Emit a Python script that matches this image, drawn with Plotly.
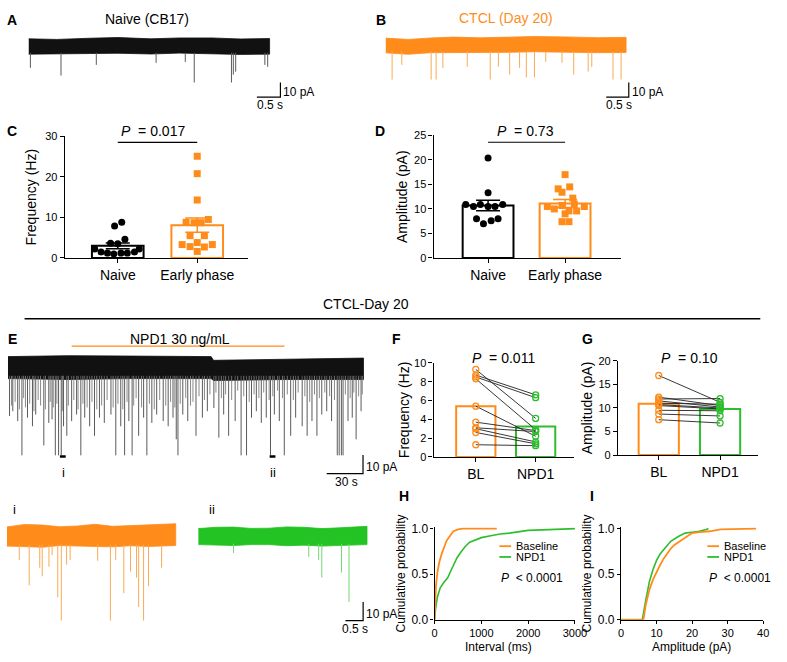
import plotly.graph_objects as go

# ======================= DATA =======================
# A  naive (CB17) sEPSC trace: event times (s) and amplitudes (pA)
a_event_t = [0.04, 0.69, 1.44, 2.71, 3.33, 3.52, 4.31, 4.35, 4.40, 5.02, 5.08]
a_event_amp = [14.7, 20.0, 12.7, 11.3, 10.7, 24.7, 24.7, 19.3, 17.3, 12.7, 14.0]
a_band_t = [0, 0.6, 1.3, 1.9, 2.6, 3.2, 3.9, 4.5, 5.12]
a_band_top = [5.0, 4.6, 5.4, 5.9, 5.0, 5.6, 5.6, 4.9, 5.2]
a_band_bot = [-5.4, -5.0, -5.0, -4.8, -5.3, -4.7, -5.0, -5.6, -5.4]

# B  CTCL (day 20) trace
b_event_t = [0.145, 0.36, 1.01, 1.12, 1.27, 1.81, 2.32, 2.50, 2.75, 2.97, 3.12,
             3.30, 3.55, 3.91, 4.17, 4.49, 4.57, 5.04, 5.22]
b_event_amp = [23.7, 13.7, 23.7, 23.7, 15.7, 15.0, 23.7, 15.0, 20.3, 15.7, 22.3,
               22.3, 11.7, 12.3, 20.3, 18.3, 15.0, 23.7, 23.7]
b_band_t = [0, 0.5, 1.0, 1.5, 2.1, 2.7, 3.3, 4.0, 4.7, 5.33]
b_band_top = [4.5, 3.6, 4.6, 5.2, 4.7, 5.0, 5.6, 5.3, 4.8, 5.0]
b_band_bot = [-5.5, -6.5, -5.4, -5.0, -5.3, -5.2, -4.8, -5.0, -5.4, -5.3]

# C  frequency (Hz)
groups_cd = ["Naive", "Early phase"]
c_naive = [7.9, 8.8, 4.6, 3.6, 3.5, 2.2, 1.5, 1.2, 1.0, 1.2, 1.2, 1.5, 2.2]
c_early = [25.1, 20.8, 14.3, 8.8, 8.7, 8.7, 9.5, 5.5, 5.5, 3.3, 2.8, 3.8, 3.3, 1.6, 2.7]
c_mean = [3.0, 8.1]
c_sem = [0.7, 1.75]
c_p = "0.017"

# D  amplitude (pA)
d_naive = [20.4, 13.3, 10.9, 10.5, 10.9, 10.5, 10.5, 10.9, 8.0, 8.0, 7.0, 7.6]
d_early = [17.0, 14.1, 14.5, 13.4, 12.2, 10.5, 10.0, 10.7, 9.0, 9.6, 10.5, 9.6, 7.4, 7.4, 11.0]
d_mean = [10.7, 11.1]
d_sem = [1.05, 0.8]
d_p = "0.73"

# E  long CTCL-day 20 recording (s, pA)
e_event_t = [1.35, 4.05, 8.1, 11.6, 16.2, 20.3, 23.0, 29.7, 33.8, 36.5, 39.2, 41.9, 44.1,
             46.0, 48.7, 52.7, 56.8, 60.3, 63.5, 67.6, 71.6, 75.7, 79.7, 85.2, 89.2, 93.3,
             96.5, 100.0, 102.7, 108.1, 112.2, 114.9, 119.0, 123.0, 128.4, 132.5, 136.5,
             139.2, 140.6, 144.6, 148.7, 155.5, 160.8, 164.9, 170.3, 174.4, 178.4, 182.5,
             187.9, 192.8, 197.3, 201.4, 205.4, 209.5, 213.6, 217.1, 220.3, 224.4, 228.5,
             233.8, 237.9, 243.3, 247.4, 251.4, 255.5, 259.5, 263.6, 267.6, 272.3, 273.9,
             275.7, 277.1, 281.2, 284.7, 287.9, 292.0]
e_event_amp = [29.6, 27.0, 32.3, 50.7, 30.5, 35.1, 28.8, 45.4, 33.3, 31.4, 50.7, 50.7, 50.7,
               35.1, 40.2, 32.3, 28.8, 50.7, 30.5, 35.1, 40.2, 30.5, 33.3, 28.8, 50.7, 35.1,
               50.7, 32.3, 50.7, 40.2, 30.5, 50.7, 33.3, 28.8, 32.3, 35.1, 30.5, 42.1, 50.7,
               28.8, 32.3, 40.2, 30.5, 27.0, 25.3, 41.2, 28.8, 40.2, 32.3, 50.7, 50.7, 30.5,
               27.0, 33.3, 30.5, 50.7, 28.8, 32.3, 50.7, 40.2, 30.5, 35.1, 40.2, 32.3, 40.2,
               28.8, 27.0, 32.3, 50.7, 50.7, 50.7, 50.7, 32.3, 30.5, 42.1, 27.0]
e_small_t = [3, 6, 9.5, 13, 14.5, 18, 21.5, 25, 27, 31, 35, 37.5, 40.5, 45, 50, 54.5, 58, 62,
             65.5, 69.5, 73.5, 77.5, 82, 87, 91, 95, 98.5, 104, 106, 110.5, 117, 121, 125.5,
             130.5, 134.5, 138, 142.5, 147, 151, 153, 158, 162.5, 167, 172, 176.5, 180, 185,
             190, 195, 199.5, 203.5, 207.5, 211.5, 216, 219, 223, 227, 231, 236, 240, 245.5,
             249.5, 253.5, 257.5, 262, 266, 270, 279, 283, 286, 290, 293]
e_small_amp = [24, 22, 26, 20, 25, 23, 27, 21, 24, 26, 22, 25, 23, 27, 24, 21, 26, 23, 25, 22,
               26, 24, 21, 25, 23, 26, 22, 24, 20, 25, 23, 26, 21, 24, 22, 25, 23, 20, 24, 22,
               19, 21, 18, 17, 20, 18, 21, 16, 19, 22, 18, 20, 17, 21, 19, 16, 20, 18, 21, 17,
               19, 22, 18, 20, 17, 19, 21, 18, 20, 17, 19, 18]
e_band_t = [0, 50, 100, 168, 170, 230, 294]
e_band_top = [2.3, 2.8, 2.6, 2.3, 0.3, 0.8, 1.5]
e_band_bot = [-9.5, -10.0, -9.5, -9.5, -10.5, -10.0, -10.0]
npd1_on, npd1_off = 52.7, 228.7       # drug application (s)
seg_i_start, seg_ii_start = 43.0, 216.4
seg_dur = 4.78

# F  frequency BL vs NPD1 (paired)
pair_groups = ["BL", "NPD1"]
f_bl = [9.3, 8.7, 8.5, 8.3, 5.4, 3.7, 3.1, 3.0, 2.6, 1.3]
f_npd1 = [4.1, 6.6, 6.3, 2.9, 2.2, 2.8, 2.7, 1.6, 1.4, 1.2]
f_mean = [5.4, 3.25]
f_p = "0.011"

# G  amplitude BL vs NPD1 (paired)
g_bl = [16.9, 12.3, 11.9, 11.5, 11.0, 10.7, 10.5, 9.5, 8.7, 7.5]
g_npd1 = [11.2, 10.5, 12.0, 10.2, 10.8, 10.0, 9.8, 9.4, 8.3, 6.8]
g_mean = [10.9, 9.8]
g_p = "0.10"

# H  cumulative inter-event interval (ms)
h_base_ms = [0, 10, 30, 60, 100, 150, 200, 250, 300, 350, 400, 450, 500, 600, 800, 1330]
h_base_p = [0, 0.2, 0.38, 0.52, 0.63, 0.72, 0.8, 0.86, 0.9, 0.94, 0.97, 0.98, 0.99, 1.0, 1.0, 1.0]
h_npd_ms = [0, 20, 60, 120, 200, 280, 350, 420, 480, 560, 650, 750, 850, 1000, 1200, 1400,
            1600, 1800, 2000, 2300, 2600, 3050]
h_npd_p = [0, 0.12, 0.25, 0.35, 0.41, 0.46, 0.54, 0.62, 0.68, 0.74, 0.8, 0.85, 0.87, 0.9,
           0.92, 0.94, 0.95, 0.965, 0.98, 0.985, 0.99, 1.0]

# I  cumulative amplitude (pA)
i_base_pa = [0, 6.3, 7, 8, 9, 10, 11, 12, 13, 14, 15, 17, 19, 20, 22, 25, 28, 38]
i_base_p = [0, 0, 0.17, 0.33, 0.44, 0.53, 0.6, 0.67, 0.73, 0.78, 0.82, 0.87, 0.92, 0.95,
            0.96, 0.97, 0.99, 1.0]
i_npd_pa = [0, 6.0, 7, 8, 9, 10, 11, 12, 13, 14, 16, 18, 20, 22, 24, 24.6]
i_npd_p = [0, 0, 0.22, 0.42, 0.55, 0.65, 0.72, 0.77, 0.82, 0.86, 0.91, 0.95, 0.96, 0.97, 0.99, 1.0]
cum_p = "< 0.0001"

# i / ii expanded segments (s, pA)
ti_event_t = [0.35, 0.63, 0.93, 1.0, 1.19, 1.28, 1.44, 1.54, 1.69, 1.79, 2.57, 2.93, 3.08,
              3.31, 3.5, 3.67, 3.73, 3.87, 4.01, 4.38]
ti_event_amp = [14.2, 27.9, 18.4, 23.0, 17.9, 11.6, 34.2, 46.8, 16.8, 14.2, 14.7, 46.8, 14.2,
                32.1, 20.5, 23.7, 39.5, 46.8, 28.4, 18.4]
ti_band_t = [0, 0.5, 1.0, 1.5, 2.0, 2.5, 3.0, 3.5, 4.0, 4.78]
ti_band_top = [3.5, 4.8, 4.5, 3.6, 4.0, 4.9, 3.8, 4.2, 4.5, 5.2]
ti_band_bot = [-6.8, -7.2, -7.4, -6.5, -6.8, -7.0, -7.2, -6.6, -7.0, -6.5]
tii_event_t = [1.0, 3.13, 3.41, 3.5, 4.06, 4.27]
tii_event_amp = [10.5, 12.6, 14.2, 23.7, 21.0, 36.8]
tii_band_t = [0, 0.5, 1.0, 1.5, 2.0, 2.5, 3.0, 3.5, 4.0, 4.78]
tii_band_top = [2.6, 3.3, 3.4, 2.7, 2.8, 3.5, 3.3, 2.6, 3.0, 3.8]
tii_band_bot = [-6.0, -6.4, -6.5, -6.0, -6.0, -6.6, -6.3, -6.8, -6.6, -6.0]

# ======================= STYLE =======================
W, H = 787, 662
FONT = "Liberation Sans, Arial, sans-serif"
ORANGE = "#FF8C1A"
ORANGE_LT = "#F9AA55"
GREEN = "#2DBE2D"
GREEN_TR = "#22C322"
GREEN_LT = "#70D870"
BLACK = "black"

fig = go.Figure()
layout = dict(width=W, height=H, margin=dict(l=0, r=0, t=0, b=0),
              paper_bgcolor="white", plot_bgcolor="rgba(0,0,0,0)",
              showlegend=False, font=dict(family=FONT, color=BLACK, size=12))
annotations = []
shapes = []
_n = [0]


def px_x(p):
    return p / W


def px_y(p):
    return 1 - p / H


def new_axes(x0, x1, ytop, ybot, xrange, yrange, xopt=None, yopt=None):
    _n[0] += 1
    s = "" if _n[0] == 1 else str(_n[0])
    xa = dict(domain=[px_x(x0), px_x(x1)], range=xrange, anchor="y" + s,
              showgrid=False, zeroline=False, fixedrange=True, visible=False)
    ya = dict(domain=[px_y(ybot), px_y(ytop)], range=yrange, anchor="x" + s,
              showgrid=False, zeroline=False, fixedrange=True, visible=False)
    if xopt:
        xa.update(xopt)
    if yopt:
        ya.update(yopt)
    layout["xaxis" + s] = xa
    layout["yaxis" + s] = ya
    return "x" + s, "y" + s


def text(xp, yp, s, size=14, color=BLACK, xanchor="center", bold=False, **kw):
    if bold:
        s = "<b>" + s + "</b>"
    annotations.append(dict(x=px_x(xp), y=px_y(yp), xref="paper", yref="paper", text=s,
                            showarrow=False, xanchor=xanchor, yanchor="middle",
                            font=dict(size=size, color=color, family=FONT), **kw))


def trace_axes(x0, x1, ytop, ybot, t0_px, base_px, px_per_s, px_per_pa):
    xr = [(x0 - t0_px) / px_per_s, (x1 - t0_px) / px_per_s]
    yr = [-(ybot - base_px) / px_per_pa, (base_px - ytop) / px_per_pa]
    return new_axes(x0, x1, ytop, ybot, xr, yr)


def draw_trace(ax, band_t, band_top, band_bot, ev_t, ev_amp, band_col, spike_col,
               spike_start, width=1.0):
    xa, ya = ax
    fig.add_trace(go.Scatter(x=band_t + band_t[::-1], y=band_top + band_bot[::-1],
                             fill="toself", fillcolor=band_col, mode="lines",
                             line=dict(color=band_col, width=0.8), xaxis=xa, yaxis=ya,
                             hoverinfo="skip"))
    xs, ys = [], []
    for t, a in zip(ev_t, ev_amp):
        xs += [t, t, None]
        ys += [spike_start, -a, None]
    fig.add_trace(go.Scatter(x=xs, y=ys, mode="lines", line=dict(color=spike_col, width=width),
                             xaxis=xa, yaxis=ya, hoverinfo="skip"))


def scalebar(ax, t_end, y_bot, sec, pa, s_label, pa_label, size=12):
    xa, ya = ax
    fig.add_trace(go.Scatter(x=[t_end - sec, t_end, t_end], y=[y_bot, y_bot, y_bot + pa],
                             mode="lines", line=dict(color=BLACK, width=1.2),
                             xaxis=xa, yaxis=ya, hoverinfo="skip"))
    annotations.append(dict(x=t_end, y=y_bot + pa / 2 - pa * 0.15, xref=xa, yref=ya,
                            text=pa_label, showarrow=False, xanchor="left", yanchor="middle",
                            xshift=1, font=dict(size=size, family=FONT)))
    annotations.append(dict(x=t_end - sec / 2 + sec * 0.05, y=y_bot, xref=xa, yref=ya,
                            text=s_label, showarrow=False, xanchor="center", yanchor="top",
                            yshift=1, font=dict(size=size, family=FONT)))


AXLINE = dict(showline=True, linecolor=BLACK, linewidth=1.3, ticks="outside", ticklen=4,
              tickwidth=1.3, tickcolor=BLACK, visible=True, showgrid=False, zeroline=False)


def bar_axes(x0, x1, ytop, ybot, centre_px, unit_px, yr, yticks, ytitle, cats,
             tick_size=11, standoff=4):
    xr = [-(centre_px - x0) / unit_px, (x1 - centre_px) / unit_px]
    xopt = dict(AXLINE, tickvals=[0, 1], ticktext=cats, tickfont=dict(size=14, family=FONT))
    yopt = dict(AXLINE, tickvals=yticks, tickfont=dict(size=tick_size, family=FONT),
                title=dict(text=ytitle, font=dict(size=14, family=FONT), standoff=standoff))
    return new_axes(x0, x1, ytop, ybot, xr, yr, xopt, yopt)


def sig_line(ax, y_line):
    xa, ya = ax
    fig.add_trace(go.Scatter(x=[0, 1], y=[y_line, y_line], mode="lines",
                             line=dict(color=BLACK, width=1.2), xaxis=xa, yaxis=ya,
                             hoverinfo="skip"))


def scatter_bar_panel(ax, mean, sem, g0, g1, dx0, dx1, bw):
    xa, ya = ax
    fig.add_trace(go.Bar(x=[0, 1], y=mean, width=bw, xaxis=xa, yaxis=ya,
                         marker=dict(color="rgba(255,255,255,0)",
                                     line=dict(color=[BLACK, ORANGE], width=2))))
    for i, col in ((0, BLACK), (1, ORANGE)):
        fig.add_trace(go.Scatter(x=[i], y=[mean[i]], mode="markers", marker=dict(opacity=0),
                                 error_y=dict(type="data", array=[sem[i]], color=col,
                                              thickness=1.5, width=12),
                                 xaxis=xa, yaxis=ya, hoverinfo="skip"))
    fig.add_trace(go.Scatter(x=[0 + d for d in dx0], y=g0, mode="markers",
                             marker=dict(symbol="circle", size=7, color=BLACK),
                             xaxis=xa, yaxis=ya, cliponaxis=False))
    fig.add_trace(go.Scatter(x=[1 + d for d in dx1], y=g1, mode="markers",
                             marker=dict(symbol="square", size=7, color=ORANGE),
                             xaxis=xa, yaxis=ya, cliponaxis=False))


def paired_panel(ax, bl, npd, mean, bw):
    xa, ya = ax
    fig.add_trace(go.Bar(x=[0, 1], y=mean, width=bw, xaxis=xa, yaxis=ya,
                         marker=dict(color="rgba(255,255,255,0)",
                                     line=dict(color=[ORANGE, GREEN], width=2))))
    xs, ys = [], []
    for a, b in zip(bl, npd):
        xs += [0, 1, None]
        ys += [a, b, None]
    fig.add_trace(go.Scatter(x=xs, y=ys, mode="lines", line=dict(color="#222", width=0.9),
                             xaxis=xa, yaxis=ya, hoverinfo="skip"))
    fig.add_trace(go.Scatter(x=[0] * len(bl), y=bl, mode="markers", cliponaxis=False,
                             marker=dict(symbol="circle-open", size=6, color=ORANGE,
                                         line=dict(width=1.3)), xaxis=xa, yaxis=ya))
    fig.add_trace(go.Scatter(x=[1] * len(npd), y=npd, mode="markers", cliponaxis=False,
                             marker=dict(symbol="circle-open", size=6, color=GREEN,
                                         line=dict(width=1.3)), xaxis=xa, yaxis=ya))


def p_text(xp, yp, p, size=14):
    text(xp, yp, "<i>P</i>  = " + p, size=size)


# ======================= A =======================
axA = trace_axes(26, 290, 25, 100, 26, 41, 48, 1.5)
draw_trace(axA, a_band_t, a_band_top, a_band_bot, a_event_t, a_event_amp,
           "#111111", "#5a5a5a", -4.5)
scalebar(axA, 5.35, -34.7, 0.5, 10, "0.5 s", "10 pA")
text(9, 14, "A", bold=True)
text(147, 13, "Naive (CB17)")

# ======================= B =======================
axB = trace_axes(390, 660, 25, 100, 390, 39.5, 46, 1.5)
draw_trace(axB, b_band_t, b_band_top, b_band_bot, b_event_t, b_event_amp,
           ORANGE, ORANGE_LT, -4.5)
scalebar(axB, 5.39, -35.7, 0.5, 10, "0.5 s", "10 pA")
text(378, 14, "B", bold=True, xanchor="left")
text(513, 12, "CTCL (Day 20)", color=ORANGE)

# ======================= C =======================
c_dx0 = [-0.04, 0.05, 0.09, -0.09, 0.0, -0.29, -0.21, -0.13, -0.05, 0.04, 0.12, 0.21, 0.27]
c_dx1 = [0, 0, 0, -0.14, -0.04, 0.05, 0.14, -0.09, 0.09, -0.19, -0.09, 0, 0.19, 0, 0.09]
axC = bar_axes(63, 250, 133, 257, 117, 81, [0, 30], [0, 10, 20, 30], "Frequency (Hz)",
               groups_cd, standoff=5)
scatter_bar_panel(axC, c_mean, c_sem, c_naive, c_early, c_dx0, c_dx1, 0.65)
sig_line(axC, 28.5)
p_text(153, 127, c_p)
text(9, 128, "C", bold=True)

# ======================= D =======================
d_dx0 = [0, 0, -0.29, -0.19, -0.10, 0, 0.09, 0.19, -0.15, 0.13, -0.06, 0.04]
d_dx1 = [0, -0.09, 0.06, -0.04, 0.10, -0.23, -0.14, -0.04, 0, 0.15, 0.25, 0.05, -0.04, 0.05, 0.12]
axD = bar_axes(439, 630, 132, 257, 494.5, 78.5, [0, 25], [0, 5, 10, 15, 20, 25],
               "Amplitude (pA)", groups_cd, standoff=3)
scatter_bar_panel(axD, d_mean, d_sem, d_naive, d_early, d_dx0, d_dx1, 0.66)
sig_line(axD, 23.6)
p_text(533, 127, d_p)
text(377, 128, "D", bold=True, xanchor="left")

# ======================= header =======================
text(370, 304, "CTCL-Day 20")
shapes.append(dict(type="line", xref="paper", yref="paper", x0=px_x(22), x1=px_x(772),
                   y0=px_y(319), y1=px_y(319), line=dict(color=BLACK, width=1.5)))

# ======================= E =======================
axE = trace_axes(5, 395, 338, 492, 5, 362, 1.233, 1.9)
xe, ye = axE
draw_trace(axE, e_band_t, e_band_top, e_band_bot, e_small_t, e_small_amp,
           "#111111", "#7c7c7c", -8, width=0.9)
xs, ys = [], []
for t, a in zip(e_event_t, e_event_amp):
    xs += [t, t, None]
    ys += [-8, -a, None]
fig.add_trace(go.Scatter(x=xs, y=ys, mode="lines", line=dict(color="#5a5a5a", width=1),
                         xaxis=xe, yaxis=ye, hoverinfo="skip"))
fig.add_trace(go.Scatter(x=[npd1_on, npd1_off], y=[7.9, 7.9], mode="lines",
                         line=dict(color=ORANGE, width=1.2), xaxis=xe, yaxis=ye))
for s0 in (seg_i_start, seg_ii_start):
    fig.add_trace(go.Scatter(x=[s0, s0 + seg_dur], y=[-51.3, -51.3], mode="lines",
                             line=dict(color=BLACK, width=2.5), xaxis=xe, yaxis=ye))
scalebar(axE, 293.6, -60.5, 30, 10, "30 s", "10 pA")
text(10, 340, "E", bold=True)
text(180, 340, "NPD1 30 ng/mL")
text(62, 476, "i", size=13)
text(275, 476, "ii", size=13)

# ======================= i / ii =======================
ax_i = trace_axes(4, 182, 520, 640, 4, 538, 36, 1.9)
draw_trace(ax_i, ti_band_t, ti_band_top, ti_band_bot, ti_event_t, ti_event_amp,
           ORANGE, ORANGE_LT, -6)
ax_ii = trace_axes(199, 400, 520, 645, 199, 538, 36, 1.9)
draw_trace(ax_ii, tii_band_t, tii_band_top, tii_band_bot, tii_event_t, tii_event_amp,
           GREEN_TR, GREEN_LT, -5.5)
scalebar(ax_ii, 4.67, -46.8, 0.5, 10, "0.5 s", "10 pA")
text(12, 514, "i", size=13)
text(213, 514, "ii", size=13)

# ======================= F =======================
axF = bar_axes(439, 582, 364, 460, 482, 61, [0, 10], [0, 2, 4, 6, 8, 10], "Frequency (Hz)",
               pair_groups, standoff=1)
paired_panel(axF, f_bl, f_npd1, f_mean, 0.656)
p_text(510, 359, f_p)
text(395, 340, "F", bold=True, xanchor="left")

# ======================= G =======================
axG = bar_axes(627, 770, 362, 458, 668.5, 62.5, [0, 20], [0, 5, 10, 15, 20], "Amplitude (pA)",
               pair_groups, standoff=2)
paired_panel(axG, g_bl, g_npd1, g_mean, 0.656)
p_text(700, 359, g_p)
text(588, 340, "G", bold=True, xanchor="left")


# ======================= H / I =======================
CUM_TOP, CUM_BOT = 533, 626


def cum_axes(x0, x1, xr, xticks):
    pad = 0.015
    ppu = CUM_BOT - CUM_TOP
    xopt = dict(AXLINE, tickvals=xticks, tickfont=dict(size=11, family=FONT), ticklen=3,
                layer="below traces")
    yopt = dict(AXLINE, tickvals=[0, 0.5, 1.0], tickformat=".1f", ticklen=3,
                tickfont=dict(size=12, family=FONT),
                title=dict(text="Cumulative probability", font=dict(size=12, family=FONT),
                           standoff=3))
    return new_axes(x0, x1, CUM_TOP - pad * ppu, CUM_BOT, xr, [0, 1 + pad], xopt, yopt)


axH = cum_axes(440, 583, [0, 3000], [0, 1000, 2000, 3000])
fig.add_trace(go.Scatter(x=h_npd_ms, y=h_npd_p, mode="lines", line=dict(color=GREEN, width=1.6),
                         xaxis=axH[0], yaxis=axH[1]))
fig.add_trace(go.Scatter(x=h_base_ms, y=h_base_p, mode="lines",
                         line=dict(color=ORANGE, width=1.8), xaxis=axH[0], yaxis=axH[1]))
text(505, 654, "Interval (ms)", size=12)
text(402, 500, "H", bold=True, xanchor="left")

axI = cum_axes(630, 775, [0, 40], [0, 10, 20, 30, 40])
fig.add_trace(go.Scatter(x=i_npd_pa, y=i_npd_p, mode="lines", line=dict(color=GREEN, width=1.6),
                         xaxis=axI[0], yaxis=axI[1]))
fig.add_trace(go.Scatter(x=i_base_pa, y=i_base_p, mode="lines",
                         line=dict(color=ORANGE, width=1.8), xaxis=axI[0], yaxis=axI[1]))
text(702, 654, "Amplitude (pA)", size=12)
text(596, 500, "I", bold=True, xanchor="left")

# legends (H and I)
for lx, tx in ((506, 521), (718, 733)):
    for yy, col, lab in ((551, ORANGE, "Baseline"), (562, GREEN, "NPD1")):
        shapes.append(dict(type="line", xref="paper", yref="paper", x0=px_x(lx),
                           x1=px_x(lx + 12), y0=px_y(yy), y1=px_y(yy),
                           line=dict(color=col, width=1.8)))
        text(tx, yy, lab, size=11, xanchor="left")
    text(lx, 583, "<i>P</i>  " + cum_p, size=12, xanchor="left")

layout["annotations"] = annotations
layout["shapes"] = shapes
fig.update_layout(**layout)
fig.write_html("out.html", config={"displayModeBar": False},
               post_script="document.body.style.margin='0px';"
                           "document.documentElement.style.overflow='hidden';"
                           "document.body.style.overflow='hidden';")
